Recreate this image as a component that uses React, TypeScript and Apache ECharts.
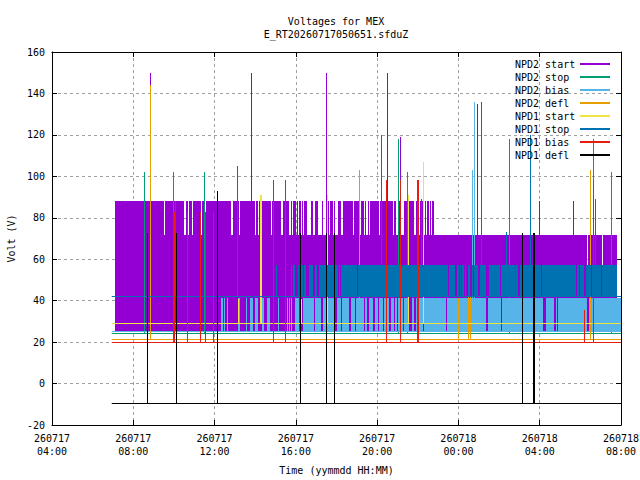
import { useEffect, useRef } from 'react'
import * as echarts from 'echarts'

// time axis: hours since 260717 00:00
const xMin = 4
const xMax = 32
const xStep = 4
const yMin = -20
const yMax = 160
const yStep = 20

const seriesNames = ['NPD2 start', 'NPD2 stop', 'NPD2 bias', 'NPD2 defl', 'NPD1 start', 'NPD1 stop', 'NPD1 bias', 'NPD1 defl']
const seriesColors = ['#9400d3', '#009e73', '#56b4e9', '#e69f00', '#f0e442', '#0072b2', '#e51e10', '#000000']

const traceStart = 6.94
const traceEnd = 32

// resting levels (V)
const npd2StopBase = 24.1
const npd2BiasBase = 25.0
const npd2DeflBase = 21.5
const npd1StartBase = 28.9
const npd1StopBase = 41.8
const npd1BiasBase = 19.6
const npd1DeflBase = -9.4

// NPD2 start toggles fast between 25 and 72 / 88 V
const npd2StartLevels = [25.0, 57.4, 71.9, 87.9]
const npd2StartRange = [7.08, 31.8]
const npd2StartHighEnd = 22.81
const npd2StartHighGaps = [
  [9.49, 9.54], [10.52, 10.58], [10.67, 10.72], [10.9, 10.96], [11.31, 11.36], [11.47, 11.59],
  [12.82, 12.93], [13.19, 13.27], [14.01, 14.06], [14.14, 14.19], [14.78, 14.85], [15.27, 15.35],
  [15.68, 15.76], [15.81, 15.88], [16.01, 16.06], [16.11, 16.17], [16.26, 16.31], [16.37, 16.42],
  [16.56, 16.75], [16.86, 16.96], [17.11, 17.29], [17.35, 17.48], [17.65, 17.7], [17.83, 17.88],
  [17.94, 18.09], [18.24, 18.3], [18.79, 18.86], [19.09, 19.2], [19.37, 19.42], [19.46, 19.55],
  [19.58, 19.66], [20.1, 20.15], [20.43, 20.51], [20.76, 20.84], [20.95, 21.02], [21.15, 21.32],
  [21.46, 21.53], [21.79, 21.89], [21.94, 22.0], [22.07, 22.13], [22.28, 22.36], [22.41, 22.47],
  [22.56, 22.61], [22.67, 22.72],
]
const npd2StartMidGaps = [[30.31, 30.36], [31.05, 31.1]]
const npd2StartSpikes = [
  [8.87, 150], [13.83, 150], [17.52, 150], [20.51, 150], [21.15, 119], [24.93, 135], [27.99, 88], [29.68, 88],
]

const npd2StopSpikes = [
  [8.53, 102], [9.96, 102], [11.48, 102], [21.07, 118], [21.51, 102], [26.51, 118], [30.63, 118], [31.53, 102],
]

// NPD2 bias toggles between 25 and 41 V
const npd2BiasLevels = [25.0, 41.3]
const npd2BiasStripes = [
  [12.34, 12.4], [12.45, 12.52], [12.62, 12.67], [13.14, 13.19], [13.22, 13.27], [13.57, 13.62],
  [13.76, 13.91], [14.01, 14.16], [14.35, 14.42], [14.6, 14.71], [15.14, 15.19], [15.57, 15.62],
  [15.67, 15.72], [15.78, 15.83], [15.98, 16.17],
]
const npd2BiasSolid = [16.35, 32]
const npd2BiasGaps = [
  [16.91, 16.96], [17.25, 17.32], [17.93, 18.02], [18.22, 18.28], [18.63, 18.69], [18.89, 18.96],
  [19.33, 19.4], [19.51, 19.61], [19.81, 19.87], [20.04, 20.1], [20.27, 20.33], [20.59, 20.68],
  [20.81, 20.86], [20.97, 21.05], [21.25, 21.33], [21.58, 21.71], [21.82, 21.91], [22.28, 22.33],
  [23.38, 23.44], [25.38, 25.44], [26.08, 26.15], [28.16, 28.29], [28.31, 28.37], [28.72, 28.79],
  [28.84, 28.9], [30.34, 30.42],
]
const npd2BiasSpikes = [[19.14, 103], [24.69, 103], [24.79, 136]]

const npd2DeflSpikes = [[8.87, 144], [23.99, 41.4], [24.49, 42], [24.6, 42], [30.51, 103]]

const npd1StartSpikes = [
  [13.16, 41], [14.28, 91], [14.33, 91], [16.28, 41], [17.56, 91], [21.54, 91], [22.28, 107],
]

// NPD1 stop toggles between 42 and 57 V
const npd1StopLevels = [41.8, 57.4]
const npd1StopStripes = [
  [15.03, 15.09], [15.76, 15.83], [15.88, 15.98], [16.11, 16.17], [16.26, 16.33], [16.4, 16.5],
  [16.66, 16.83], [16.96, 17.02],
]
const npd1StopSolid = [17.12, 31.8]
const npd1StopGaps = [
  [18.05, 18.14], [18.17, 18.24], [18.99, 19.07], [23.49, 23.56], [23.82, 23.95], [24.03, 24.1],
  [24.12, 24.2], [24.25, 24.33], [24.39, 24.49], [24.57, 24.66], [24.69, 24.77], [24.97, 25.05],
  [25.35, 25.51], [26.05, 26.11], [26.33, 26.39], [26.95, 27.02], [28.05, 28.11], [29.77, 29.83],
  [29.93, 30.0], [30.18, 30.26], [30.51, 30.56], [31.0, 31.08],
]
const npd1StopSpikes = [
  [10.1, 88], [13.15, 105], [20.21, 120], [22.18, 89], [25.15, 136], [26.39, 73], [27.55, 120], [30.74, 89],
]

const npd1BiasSpikes = [
  [9.96, 83], [10.01, 83], [10.65, 83], [11.32, 83], [11.57, 83], [11.96, 83], [14.91, 98], [15.5, 98],
  [20.48, 98], [21.17, 98], [22.0, 98], [22.04, 98], [30.19, 35.7], [30.63, 98],
]

const npd1DeflSpikes = [
  [8.72, 72.7], [10.14, 72.7], [12.16, 93.1], [16.24, 72.7], [17.5, 72.7], [17.89, 72.7], [27.13, 72.7],
  [27.69, 72.7], [27.75, 72.7],
]

const FONT = 'DejaVu Sans Mono'

// item = [t0, v0, t1, v1, isBand]
function splitRange(from: number, to: number, gaps: number[][]) {
  const out: number[][] = []
  let cur = from
  for (const [g0, g1] of gaps) {
    if (g0 > cur) out.push([cur, Math.min(g0, to)])
    cur = Math.max(cur, g1)
  }
  if (to > cur) out.push([cur, to])
  return out
}
const band = (from: number, to: number, lo: number, hi: number, gaps: number[][] = []) =>
  splitRange(from, to, gaps).map(([a, b]) => [a, lo, b, hi, 1])
const stripes = (list: number[][], lo: number, hi: number) => list.map(([a, b]) => [a, lo, b, hi, 1])
const spikes = (base: number, list: number[][]) => list.map(([t, v]) => [t, base, t, v, 0])
const baseline = (v: number) => [[traceStart, v, traceEnd, v, 0]]

function buildSeriesData() {
  const [s0, s1, s2, s3] = npd2StartLevels
  return [
    [
      ...band(npd2StartRange[0], npd2StartRange[1], s0, s1),
      ...band(npd2StartRange[0], npd2StartRange[1], s1, s2, npd2StartMidGaps),
      ...band(npd2StartRange[0], npd2StartHighEnd, s2, s3, npd2StartHighGaps),
      ...spikes(s0, npd2StartSpikes),
    ],
    [...baseline(npd2StopBase), ...spikes(npd2StopBase, npd2StopSpikes)],
    [
      ...baseline(npd2BiasBase),
      ...stripes(npd2BiasStripes, npd2BiasLevels[0], npd2BiasLevels[1]),
      ...band(npd2BiasSolid[0], npd2BiasSolid[1], npd2BiasLevels[0], npd2BiasLevels[1], npd2BiasGaps),
      ...spikes(npd2BiasBase, npd2BiasSpikes),
    ],
    [...baseline(npd2DeflBase), ...spikes(npd2DeflBase, npd2DeflSpikes)],
    [...baseline(npd1StartBase), ...spikes(npd1StartBase, npd1StartSpikes)],
    [
      ...baseline(npd1StopBase),
      ...stripes(npd1StopStripes, npd1StopLevels[0], npd1StopLevels[1]),
      ...band(npd1StopSolid[0], npd1StopSolid[1], npd1StopLevels[0], npd1StopLevels[1], npd1StopGaps),
      ...spikes(npd1StopBase, npd1StopSpikes),
    ],
    [...baseline(npd1BiasBase), ...spikes(npd1BiasBase, npd1BiasSpikes)],
    [...baseline(npd1DeflBase), ...spikes(npd1DeflBase, npd1DeflSpikes)],
  ]
}

function renderSegment(_params: any, api: any) {
  const a = api.coord([api.value(0), api.value(1)])
  const b = api.coord([api.value(2), api.value(3)])
  const color = api.visual('color')
  if (api.value(4) === 1) {
    const x0 = Math.round(Math.min(a[0], b[0]))
    const x1 = Math.round(Math.max(a[0], b[0]))
    const y0 = Math.round(Math.min(a[1], b[1]))
    const y1 = Math.round(Math.max(a[1], b[1]))
    return {
      type: 'rect',
      shape: { x: x0, y: y0, width: Math.max(x1 - x0, 1), height: y1 - y0 },
      style: { fill: color },
    }
  }
  if (api.value(0) === api.value(2)) {
    const x = Math.floor(a[0]) + 0.5
    return {
      type: 'line',
      shape: { x1: x, y1: Math.round(a[1]), x2: x, y2: Math.round(b[1]) },
      style: { stroke: color, lineWidth: 1 },
    }
  }
  const y = Math.floor(a[1]) + 0.5
  return {
    type: 'line',
    shape: { x1: a[0], y1: y, x2: b[0], y2: y },
    style: { stroke: color, lineWidth: 1 },
  }
}

function formatTime(v: number) {
  const day = 260717 + Math.floor(v / 24)
  const hh = String(v % 24).padStart(2, '0')
  return `${day}\n${hh}:00`
}

export default function App() {
  const chartRef = useRef<HTMLDivElement>(null)

  useEffect(() => {
    if (!chartRef.current) return
    const chart = echarts.init(chartRef.current, undefined, { renderer: 'svg' })
    const seriesData = buildSeriesData()

    const textBase = { fontFamily: FONT, fontSize: 10, color: '#000' }
    const frameAxis = {
      axisLine: { show: true, onZero: false, lineStyle: { color: '#000', width: 1 } },
      axisTick: { show: true, inside: true, length: 5, lineStyle: { color: '#000' } },
    }
    const gridLine = { show: true, lineStyle: { color: '#a0a0a0', type: [3, 3], width: 1 } }

    chart.setOption({
      animation: false,
      backgroundColor: '#fff',
      color: seriesColors,
      title: {
        text: 'Voltages for MEX',
        subtext: 'E_RT20260717050651.sfduZ',
        left: 336,
        top: 15,
        textAlign: 'center',
        padding: 0,
        itemGap: 0,
        textStyle: { ...textBase, fontWeight: 'normal', lineHeight: 13 },
        subtextStyle: { ...textBase, lineHeight: 13 },
      },
      legend: {
        data: seriesNames,
        orient: 'vertical',
        right: 30,
        top: 59,
        padding: 0,
        itemGap: 3,
        align: 'right',
        icon: 'rect',
        itemWidth: 30,
        itemHeight: 2,
        itemStyle: { borderWidth: 0 },
        selectedMode: false,
        formatter: (name: string) => `{n|${name}}`,
        textStyle: {
          ...textBase,
          rich: { n: { ...textBase, width: 60, align: 'left' } },
        },
      },
      grid: { left: 52, right: 19, top: 52, bottom: 55, outerBoundsMode: 'none' },
      xAxis: [
        {
          type: 'value',
          min: xMin,
          max: xMax,
          interval: xStep,
          position: 'bottom',
          ...frameAxis,
          axisLabel: {
            ...textBase,
            lineHeight: 13,
            margin: 7,
            showMinLabel: true,
            showMaxLabel: true,
            formatter: formatTime,
          },
          splitLine: gridLine,
          name: 'Time (yymmdd HH:MM)',
          nameLocation: 'middle',
          nameGap: 40,
          nameTextStyle: textBase,
        },
        {
          type: 'value',
          min: xMin,
          max: xMax,
          interval: xStep,
          position: 'top',
          ...frameAxis,
          axisLabel: { show: false },
          splitLine: { show: false },
        },
      ],
      yAxis: [
        {
          type: 'value',
          min: yMin,
          max: yMax,
          interval: yStep,
          position: 'left',
          ...frameAxis,
          axisLabel: { ...textBase, margin: 7, showMinLabel: true, showMaxLabel: true },
          splitLine: gridLine,
          name: 'Volt (V)',
          nameLocation: 'middle',
          nameRotate: 90,
          nameGap: 35,
          nameTextStyle: textBase,
        },
        {
          type: 'value',
          min: yMin,
          max: yMax,
          interval: yStep,
          position: 'right',
          ...frameAxis,
          axisLabel: { show: false },
          splitLine: { show: false },
        },
      ],
      series: seriesNames.map((name, i) => ({
        name,
        type: 'custom',
        xAxisIndex: 0,
        yAxisIndex: 0,
        clip: true,
        silent: true,
        itemStyle: { color: seriesColors[i] },
        encode: { x: [0, 2], y: [1, 3] },
        renderItem: renderSegment,
        data: seriesData[i],
      })),
    })

    return () => {
      chart.dispose()
    }
  }, [])

  return (
    <div
      ref={chartRef}
      style={{ position: 'fixed', left: 0, top: 0, width: 640, height: 480, background: '#fff' }}
    />
  )
}
